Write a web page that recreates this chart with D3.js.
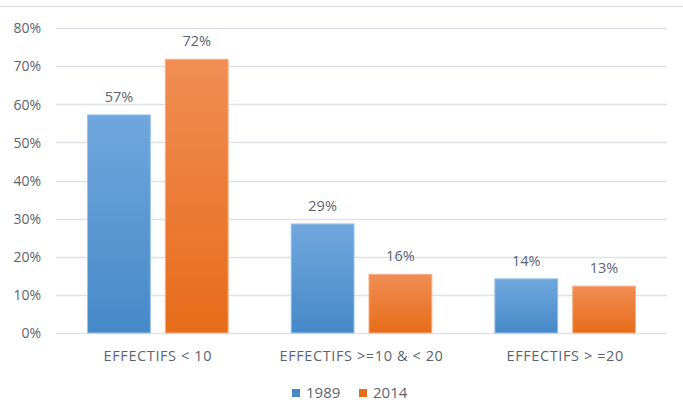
<!DOCTYPE html>
<html><head><meta charset="utf-8">
<script src="https://cdn.jsdelivr.net/npm/d3@7"></script>
<style>body{margin:0;background:#fff}svg{display:block}text{font-family:"Open Sans","Liberation Sans",sans-serif;fill:#5b6472}</style>
</head><body><svg id="c" width="683" height="404"></svg>
<script>
const categories = ["EFFECTIFS < 10", "EFFECTIFS >=10 & < 20", "EFFECTIFS > =20"];
const seriesNames = ["1989", "2014"];
const values1989 = [0.572, 0.286, 0.142];
const values2014 = [0.718, 0.154, 0.123];
const labels1989 = ["57%", "29%", "14%"];
const labels2014 = ["72%", "16%", "13%"];
const yTicks = [0, 0.1, 0.2, 0.3, 0.4, 0.5, 0.6, 0.7, 0.8];

const svg = d3.select("#c");
const W = 683, H = 404;
const m = {left: 56, right: 16, top: 28, bottom: 71};
const x0 = d3.scaleBand().domain(categories).range([m.left, W - m.right]).paddingInner(0).paddingOuter(0);
const x1 = d3.scaleBand().domain(seriesNames).range([0, x0.bandwidth()]).paddingInner(0.192).paddingOuter(0.405);
const y = d3.scaleLinear().domain([0, 0.8]).range([H - m.bottom, m.top]);

const defs = svg.append("defs");
const grads = {"1989": ["#70a7dd", "#4689c9"], "2014": ["#f18d54", "#e66c19"]};
Object.entries(grads).forEach(([k, c]) => {
  const g = defs.append("linearGradient").attr("id", "g" + k).attr("x1", 0).attr("y1", 0).attr("x2", 0).attr("y2", 1);
  g.append("stop").attr("offset", 0).attr("stop-color", c[0]);
  g.append("stop").attr("offset", 1).attr("stop-color", c[1]);
});
const strokes = {"1989": "#9cc3ea", "2014": "#f6b38a"};

// top border line
svg.append("line").attr("x1", 0).attr("x2", W).attr("y1", 6.5).attr("y2", 6.5).attr("stroke", "#e1e4e9").attr("stroke-width", 1.5);

// gridlines
svg.append("g").selectAll("line").data(yTicks).join("line")
  .attr("x1", m.left).attr("x2", W - m.right)
  .attr("y1", d => Math.round(y(d)) + 0.5).attr("y2", d => Math.round(y(d)) + 0.5)
  .attr("stroke", "#dfe3e8").attr("stroke-width", 1.3);

// y axis labels
const yAxis = d3.axisLeft(y).tickValues(yTicks).tickFormat(d3.format(".0%")).tickSize(0).tickPadding(0);
const ya = svg.append("g").attr("transform", `translate(${41},0)`).call(yAxis);
ya.select(".domain").remove();
ya.selectAll("text").style("font-size", "14px").attr("fill", "#5b6472").attr("dy", "0.34em");

const rows = categories.map((c, i) => ({cat: c, vals: [
  {s: "1989", v: values1989[i], l: labels1989[i]},
  {s: "2014", v: values2014[i], l: labels2014[i]}]}));

const grp = svg.append("g").selectAll("g").data(rows).join("g")
  .attr("transform", d => `translate(${x0(d.cat)},0)`);
grp.selectAll("rect").data(d => d.vals).join("rect")
  .attr("x", d => x1(d.s)).attr("width", x1.bandwidth())
  .attr("y", d => y(d.v)).attr("height", d => y(0) - y(d.v))
  .attr("fill", d => `url(#g${d.s})`).attr("stroke", d => strokes[d.s]).attr("stroke-width", 1);
grp.selectAll("text").data(d => d.vals).join("text")
  .attr("x", d => x1(d.s) + x1.bandwidth() / 2).attr("y", d => y(d.v) - 13)
  .attr("text-anchor", "middle").style("font-size", "14.5px").text(d => d.l);

// x axis labels
const xAxis = d3.axisBottom(x0).tickSize(0).tickPadding(0);
const xa = svg.append("g").attr("transform", `translate(0,${y(0)})`).call(xAxis);
xa.select(".domain").remove();
xa.selectAll("text").style("font-size", "14.5px").style("letter-spacing", "0.6px").attr("fill", "#5b6472").attr("y", 23).attr("dy", "0.35em");

// legend
const leg = svg.append("g");
const legX = [292, 359];
seriesNames.forEach((s, i) => {
  leg.append("rect").attr("x", legX[i]).attr("y", 389).attr("width", 8).attr("height", 8).attr("fill", grads[s][1]);
  leg.append("text").attr("x", legX[i] + 14).attr("y", 393).attr("dy", "0.35em").style("font-size", "15px").text(s);
});
</script></body></html>
